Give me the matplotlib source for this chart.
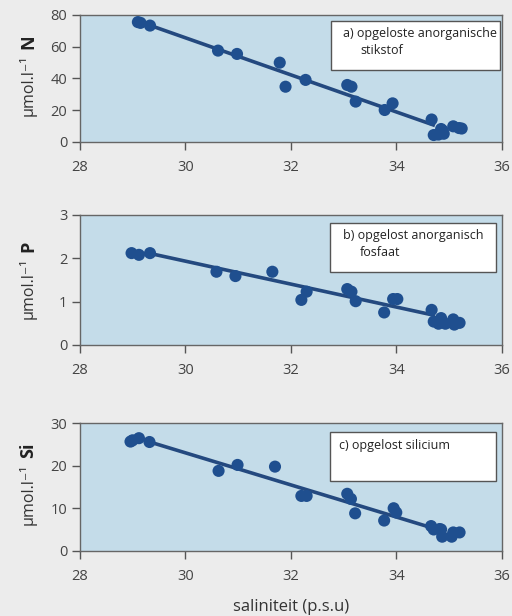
import matplotlib
matplotlib.use("Agg")
import matplotlib.pyplot as plt
from matplotlib.patches import Rectangle

plt.rcParams["font.family"] = ["Open Sans", "DejaVu Sans"]

# gemeten punten per nutriënt (saliniteit in p.s.u)
sal_n = [29.1, 29.15, 29.33, 30.62, 30.98, 31.79, 31.9, 32.28, 33.07, 33.15, 33.23,
         33.78, 33.93, 34.67, 34.71, 34.8, 34.85, 34.9, 34.88, 35.08, 35.19, 35.24]
n_vals = [75.5, 75.0, 73.3, 57.5, 55.4, 49.9, 34.7, 39.0, 35.8, 34.7, 25.3,
          20.0, 24.2, 14.0, 4.2, 4.5, 8.0, 5.0, 7.0, 9.7, 8.6, 8.3]

sal_p = [28.98, 29.12, 29.33, 30.59, 30.95, 31.65, 32.2, 32.3, 33.07, 33.15, 33.23,
         33.77, 33.94, 34.02, 34.67, 34.71, 34.8, 34.85, 34.93, 35.08, 35.1, 35.2]
p_vals = [2.12, 2.08, 2.12, 1.69, 1.59, 1.69, 1.04, 1.23, 1.29, 1.23, 1.01,
          0.75, 1.06, 1.06, 0.81, 0.54, 0.49, 0.62, 0.49, 0.59, 0.47, 0.51]

sal_si = [28.96, 29.0, 29.12, 29.32, 30.63, 30.99, 31.7, 32.2, 32.3, 33.07, 33.14,
          33.22, 33.77, 33.95, 34.0, 34.66, 34.71, 34.82, 34.85, 34.87, 35.05, 35.08, 35.2]
si_vals = [25.7, 26.0, 26.5, 25.6, 18.8, 20.2, 19.8, 12.9, 12.9, 13.4, 12.2,
           8.8, 7.1, 10.0, 9.0, 5.8, 5.0, 5.1, 5.0, 3.3, 3.3, 4.3, 4.3]

fit_sal = [29.3, 34.7]
fit_n = [73.8, 10.6]
fit_p = [2.12, 0.69]
fit_si = [25.7, 5.3]

x_ticks = [28, 30, 32, 34, 36]

panels = [
    (sal_n, n_vals, fit_n, [0, 20, 40, 60, 80], "N",
     ["a) opgeloste anorganische", "stikstof"], (0.770, 0.2057),
     (0.596, 0.566, 0.399, 0.389)),
    (sal_p, p_vals, fit_p, [0, 1, 2, 3], "P",
     ["b) opgelost anorganisch", "fosfaat"], (0.440, 0.211),
     (0.594, 0.564, 0.393, 0.372)),
    (sal_si, si_vals, fit_si, [0, 10, 20, 30], "Si",
     ["c) opgelost silicium", ""], (0.106, 0.2068),
     (0.592, 0.547, 0.395, 0.382)),
]

DOT = "#1f4f8f"
LINE = "#24497f"
FACE = "#c4dce9"
GRID = "#555555"

fig = plt.figure(figsize=(5.12, 6.16), dpi=100, facecolor="#ececec")
renderer = fig.canvas.get_renderer()

for sal, vals, fit, yticks, elem, box_txt, (bottom, height), box in panels:
    ax = fig.add_axes([0.156, bottom, 0.824, height])
    ax.set_facecolor(FACE)
    ax.plot(fit_sal, fit, color=LINE, lw=2.6, zorder=2)
    ax.scatter(sal, vals, s=76, color=DOT, edgecolors="none", zorder=3)
    ax.set_xlim(28, 36)
    ax.set_ylim(yticks[0], yticks[-1])
    ax.set_xticks(x_ticks)
    ax.set_yticks(yticks)
    ax.tick_params(direction="out", length=6, width=1, color=GRID,
                   labelcolor="#444444", labelsize=10.5)
    ax.tick_params(axis="x", pad=7)
    ax.tick_params(axis="y", pad=3)
    for sp in ax.spines.values():
        sp.set_color("#666666")
        sp.set_linewidth(1)

    # legenda-kader
    bx, by, bw, bh = box
    ax.add_patch(Rectangle((bx, by), bw, bh, transform=ax.transAxes,
                           facecolor="white", edgecolor="#555555", lw=1, zorder=4))
    if box_txt[1]:
        ax.text(0.624, by + bh * 0.74, box_txt[0], transform=ax.transAxes,
                ha="left", va="center", fontsize=9, color="#222222", zorder=5)
        ax.text(0.664, by + bh * 0.39, box_txt[1], transform=ax.transAxes,
                ha="left", va="center", fontsize=9, color="#222222", zorder=5)
    else:
        ax.text(0.614, by + bh * 0.74, box_txt[0], transform=ax.transAxes,
                ha="left", va="center", fontsize=9, color="#222222", zorder=5)

    # y-label: eenheid + element (vet, groter)
    y0 = bottom + 26 / 616
    t1 = fig.text(33 / 512, y0, "µmol.l⁻¹", rotation=90, rotation_mode="anchor",
                  ha="left", va="baseline", fontsize=11.5, color="#333333")
    ext = t1.get_window_extent(renderer)
    fig.text(33 / 512, (ext.y1 + 6) / 616, elem, rotation=90,
             rotation_mode="anchor", ha="left", va="baseline",
             fontsize=13, fontweight="bold", color="#222222")

fig.text(0.568, 1 - 607 / 616, "saliniteit (p.s.u)", ha="center", va="center",
         fontsize=12, color="#333333")

fig.savefig("out.png", dpi=100, facecolor=fig.get_facecolor())
